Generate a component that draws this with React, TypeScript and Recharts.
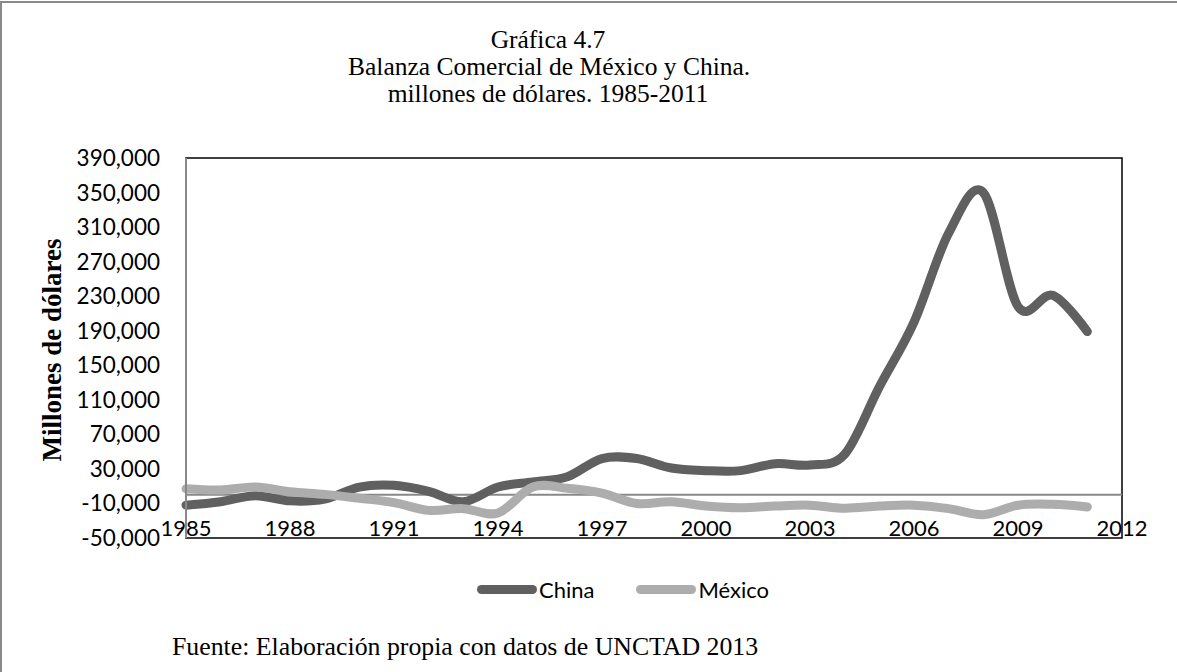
import { Line, LineChart, ReferenceArea, ReferenceLine, XAxis, YAxis } from "recharts";

const years = [
  1985, 1986, 1987, 1988, 1989, 1990, 1991, 1992, 1993, 1994, 1995, 1996, 1997, 1998,
  1999, 2000, 2001, 2002, 2003, 2004, 2005, 2006, 2007, 2008, 2009, 2010, 2011
];

// millones de dólares
const china = [
  -12000, -8000, -1000, -7000, -5000, 9000, 11000, 4000, -8000, 9000, 15000, 21000, 42000, 42000,
  31000, 28000, 28000, 36000, 34500, 47000, 125000, 200000, 303000, 350000, 218000, 231000, 189000
];

const mexico = [
  7000, 5500, 9000, 3600, 500, -4000, -9000, -18000, -16000, -21000, 9000, 7500, 2000, -10000,
  -8000, -13000, -15000, -13000, -12000, -15500, -13000, -12000, -16000, -23000, -12000, -11000, -14000
];

const xTicks = [1985, 1988, 1991, 1994, 1997, 2000, 2003, 2006, 2009, 2012];
const yTicks = [-50000, -10000, 30000, 70000, 110000, 150000, 190000, 230000, 270000, 310000, 350000, 390000];

const series = [
  { key: "china", name: "China", color: "#606060" },
  { key: "mexico", name: "México", color: "#adadad" }
];

const data = years.map((year, i) => ({ year, china: china[i], mexico: mexico[i] }));

const SANS = "Lato, 'Open Sans', sans-serif";
const SERIF = "'Liberation Serif', 'Times New Roman', serif";

// Excel-style smoothing (cardinal spline, tension 0)
function excelSmooth(context: any) {
  const k = 1 / 6;
  let x0 = NaN, x1 = NaN, x2 = NaN, y0 = NaN, y1 = NaN, y2 = NaN;
  let n = 0;
  const seg = (x: number, y: number) => {
    context.bezierCurveTo(x1 + k * (x2 - x0), y1 + k * (y2 - y0), x2 + k * (x1 - x), y2 + k * (y1 - y), x2, y2);
  };
  return {
    areaStart() {},
    areaEnd() {},
    lineStart() {
      x0 = x1 = x2 = y0 = y1 = y2 = NaN;
      n = 0;
    },
    lineEnd() {
      if (n === 2) context.lineTo(x2, y2);
      else if (n === 3) seg(x1, y1);
    },
    point(x: number, y: number) {
      x = +x;
      y = +y;
      if (n === 0) {
        n = 1;
        context.moveTo(x, y);
      } else if (n === 1) {
        n = 2;
        x1 = x;
        y1 = y;
      } else {
        n = 3;
        seg(x, y);
      }
      x0 = x1; x1 = x2; x2 = x;
      y0 = y1; y1 = y2; y2 = y;
    }
  };
}

function XTick({ x, y, payload }: any) {
  return (
    <text x={x} y={y - 2} textAnchor="middle" fontFamily={SANS} fontSize={22} fill="#000">
      {payload.value}
    </text>
  );
}

function YTick({ x, y, payload }: any) {
  return (
    <text x={x} y={y} dy={8} textAnchor="end" fontFamily={SANS} fontSize={22.5} fill="#000">
      {Number(payload.value).toLocaleString("en-US")}
    </text>
  );
}

function ChartLegend() {
  return (
    <div
      style={{
        position: "absolute",
        left: 477,
        top: 576,
        display: "flex",
        gap: 42,
        fontFamily: SANS,
        fontSize: 22,
        color: "#000"
      }}
    >
      {series.map((s) => (
        <div key={s.key} style={{ display: "flex", alignItems: "center" }}>
          <span
            style={{ display: "inline-block", width: 60, height: 9, borderRadius: 5, background: s.color, marginRight: 2 }}
          />
          <span>{s.name}</span>
        </div>
      ))}
    </div>
  );
}

export default function App() {
  return (
    <div
      style={{
        position: "absolute",
        left: 0,
        top: 0,
        width: 1177,
        height: 672,
        overflow: "hidden",
        background: "#fff"
      }}
    >
      <div
        style={{
          position: "absolute",
          left: 0,
          top: 1,
          width: 1300,
          height: 800,
          borderLeft: "2px solid #8a8a8a",
          borderTop: "2px solid #8a8a8a"
        }}
      />
      <div
        style={{
          position: "absolute",
          left: 348,
          top: 26,
          width: 400,
          textAlign: "center",
          fontFamily: SERIF,
          fontSize: 25.5,
          lineHeight: "27px",
          color: "#000",
          whiteSpace: "nowrap"
        }}
      >
        <div>Gráfica 4.7</div>
        <div>Balanza Comercial de México y China.</div>
        <div>millones de dólares. 1985-2011</div>
      </div>
      <div
        style={{
          position: "absolute",
          left: 52,
          top: 350,
          transform: "translate(-50%, -50%) rotate(-90deg)",
          whiteSpace: "nowrap",
          fontFamily: SERIF,
          fontWeight: "bold",
          fontSize: 27,
          color: "#000"
        }}
      >
        Millones de dólares
      </div>
      <LineChart width={1177} height={672} data={data} margin={{ top: 158, right: 55, bottom: 104, left: 86 }}>
        <ReferenceArea
          x1={1985}
          x2={2012}
          y1={-50000}
          y2={390000}
          fill="none"
          stroke="#000"
          strokeWidth={1.5}
          fillOpacity={0}
        />
        <XAxis
          dataKey="year"
          type="number"
          domain={[1985, 2012]}
          ticks={xTicks}
          height={30}
          axisLine={false}
          tickLine={false}
          tickSize={0}
          tickMargin={0}
          tick={<XTick />}
          interval={0}
        />
        <YAxis
          type="number"
          domain={[-50000, 390000]}
          ticks={yTicks}
          width={100}
          axisLine={{ stroke: "#888", strokeWidth: 2 }}
          tickLine={false}
          tickSize={0}
          tickMargin={26}
          tick={<YTick />}
          interval={0}
        />
        <ReferenceLine y={0} stroke="#888" strokeWidth={2} />
        {series.map((s) => (
          <Line
            key={s.key}
            dataKey={s.key}
            name={s.name}
            stroke={s.color}
            strokeWidth={9}
            strokeLinecap="round"
            dot={false}
            activeDot={false}
            type={excelSmooth as any}
            isAnimationActive={false}
          />
        ))}
      </LineChart>
      <ChartLegend />
      <div
        style={{
          position: "absolute",
          left: 172,
          top: 632,
          fontFamily: SERIF,
          fontSize: 25.8,
          color: "#000",
          whiteSpace: "nowrap"
        }}
      >
        Fuente: Elaboración propia con datos de UNCTAD 2013
      </div>
    </div>
  );
}
